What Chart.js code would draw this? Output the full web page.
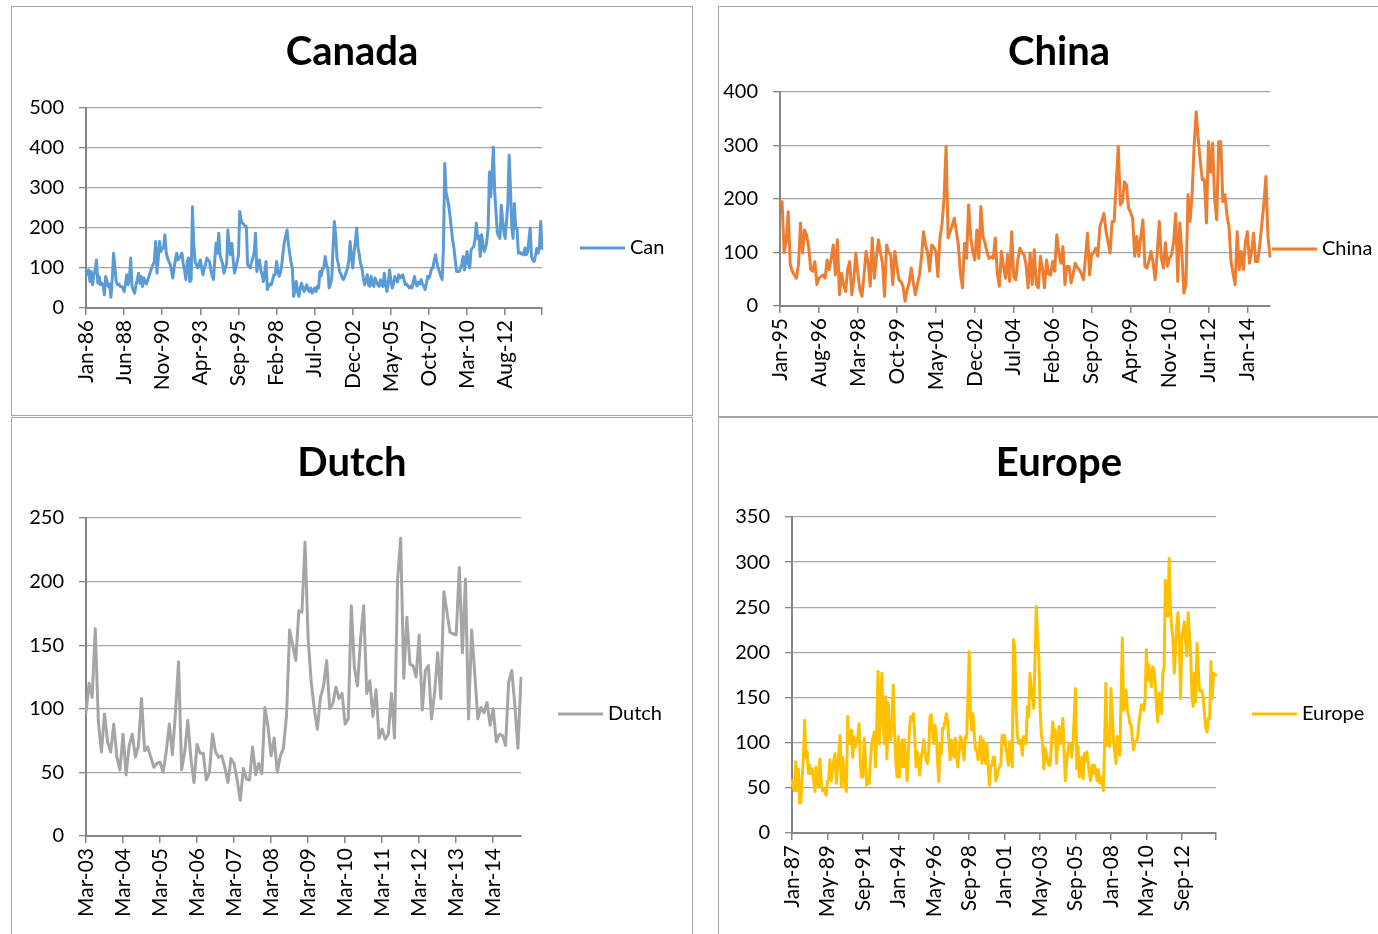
<!DOCTYPE html>
<html>
<head>
<meta charset="utf-8">
<title>Canada, China, Dutch, Europe</title>
<script src="https://cdn.jsdelivr.net/npm/chart.js@4.4.1/dist/chart.umd.min.js"></script>
<style>
html, body { margin: 0; padding: 0; background: #fff; overflow: hidden; width: 1378px; height: 934px; }
.box { position: absolute; border: 1px solid #a6a6a6; background: #fff; }
canvas { display: block; }
</style>
</head>
<body>
<div class="box" style="left:11px;top:6px;width:680px;height:408px"><canvas id="canadaChart" width="680" height="408"></canvas></div>
<div class="box" style="left:718px;top:6px;width:680px;height:409px"><canvas id="chinaChart" width="680" height="409"></canvas></div>
<div class="box" style="left:11px;top:417px;width:680px;height:520px"><canvas id="dutchChart" width="680" height="520"></canvas></div>
<div class="box" style="left:718px;top:417px;width:680px;height:520px"><canvas id="europeChart" width="680" height="520"></canvas></div>
<script>
// monthly values (one row per year)
var canada = [
  93, 83, 95, 66, 91, 58, 83, 95, 120, 62, 79, 58,
  62, 58, 33, 79, 66, 54, 60, 27, 75, 137, 100, 66,
  58, 60, 54, 54, 50, 41, 60, 83, 58, 70, 125, 54,
  45, 37, 58, 70, 87, 62, 79, 54, 75, 66, 60, 70,
  80, 91, 100, 108, 116, 166, 87, 125, 166, 141, 150, 150,
  183, 140, 125, 116, 110, 95, 75, 100, 120, 137, 120, 125,
  130, 137, 110, 95, 71, 115, 125, 66, 70, 253, 160, 116,
  108, 100, 110, 120, 100, 83, 100, 110, 125, 120, 116, 95,
  80, 71, 120, 162, 137, 187, 133, 120, 110, 87, 100, 110,
  195, 150, 133, 162, 120, 87, 100, 116, 130, 241, 220, 212,
  210, 205, 203, 108, 104, 100, 115, 125, 140, 187, 91, 110,
  120, 95, 83, 66, 90, 116, 46, 55, 60, 58, 70, 83,
  83, 116, 95, 79, 90, 108, 140, 166, 180, 195, 160, 137,
  115, 100, 29, 45, 66, 40, 29, 50, 62, 50, 41, 50,
  58, 45, 41, 50, 37, 45, 50, 41, 54, 50, 91, 80,
  100, 100, 129, 108, 100, 50, 60, 75, 150, 216, 183, 125,
  110, 91, 85, 75, 71, 80, 90, 100, 120, 166, 125, 100,
  140, 166, 200, 150, 133, 110, 100, 75, 58, 70, 83, 58,
  54, 79, 60, 54, 75, 66, 58, 54, 70, 60, 54, 87,
  60, 41, 60, 95, 70, 50, 60, 79, 70, 65, 83, 75,
  80, 83, 70, 58, 60, 55, 50, 55, 50, 65, 79, 60,
  55, 65, 60, 71, 60, 55, 46, 60, 79, 75, 85, 100,
  100, 120, 133, 115, 100, 90, 80, 71, 150, 361, 290, 274,
  257, 230, 200, 170, 149, 120, 91, 91, 91, 100, 110, 129,
  95, 120, 141, 110, 100, 145, 150, 153, 170, 212, 174, 180,
  129, 183, 160, 141, 150, 166, 200, 340, 278, 332, 402, 291,
  240, 187, 180, 174, 257, 220, 190, 174, 216, 260, 382, 300,
  200, 174, 261, 200, 200, 137, 140, 135, 137, 133, 150, 133,
  140, 170, 200, 129, 120, 116, 130, 149, 137, 150, 216, 149
];

var china = [
  195, 195, 100, 120, 176, 77, 65, 58, 52, 77, 155, 99,
  142, 132, 110, 68, 65, 83, 40, 52, 55, 58, 52, 86,
  68, 89, 114, 58, 124, 21, 61, 40, 27, 68, 83, 21,
  50, 99, 60, 30, 18, 58, 102, 80, 37, 127, 52, 90,
  124, 100, 80, 18, 114, 100, 96, 40, 102, 75, 49, 45,
  37, 9, 30, 43, 71, 45, 21, 40, 58, 90, 139, 114,
  100, 65, 114, 110, 102, 55, 127, 152, 200, 298, 127, 139,
  150, 164, 140, 114, 60, 34, 117, 89, 189, 130, 102, 86,
  142, 89, 186, 130, 118, 100, 89, 92, 89, 127, 60, 37,
  102, 75, 52, 96, 46, 139, 55, 49, 86, 108, 100, 96,
  77, 34, 99, 40, 105, 40, 34, 93, 70, 34, 86, 60,
  58, 83, 65, 133, 100, 80, 111, 40, 74, 74, 43, 60,
  80, 72, 68, 60, 49, 90, 136, 58, 96, 100, 108, 93,
  148, 160, 173, 140, 120, 99, 158, 158, 230, 298, 189, 195,
  232, 226, 183, 175, 164, 93, 130, 93, 130, 161, 74, 71,
  85, 102, 80, 49, 100, 158, 90, 71, 118, 74, 90, 96,
  120, 173, 46, 155, 100, 24, 40, 208, 158, 208, 300, 363,
  313, 270, 236, 236, 155, 307, 250, 304, 200, 161, 307, 307,
  195, 208, 170, 148, 83, 60, 40, 139, 68, 102, 68, 120,
  139, 80, 102, 136, 83, 83, 114, 152, 190, 242, 130, 93
];

var dutch = [
  97, 120, 109, 163, 90, 66, 96, 74, 66, 88,
  62, 52, 80, 48, 71, 80, 62, 71, 108, 67, 70, 62,
  54, 57, 58, 50, 66, 88, 64, 97, 137, 52, 66, 91,
  61, 42, 72, 65, 65, 44, 50, 80, 66, 62, 63, 54,
  42, 61, 57, 44, 28, 53, 45, 44, 70, 48, 57, 49,
  101, 86, 63, 77, 50, 63, 69, 95, 162, 150, 138, 177,
  176, 231, 155, 121, 100, 84, 109, 118, 138, 100, 104, 117,
  108, 112, 88, 92, 181, 132, 118, 155, 181, 112, 122, 94,
  115, 77, 84, 76, 80, 112, 77, 202, 234, 124, 172, 135,
  134, 125, 158, 99, 130, 134, 92, 113, 144, 108, 192, 176,
  160, 159, 158, 211, 144, 202, 92, 162, 128, 92, 101, 97,
  105, 87, 100, 74, 80, 79, 71, 121, 130, 103, 69, 124
];

var europe = [
  58, 50, 47, 79, 47, 71, 33, 34, 60, 84, 125, 84,
  90, 66, 75, 66, 71, 60, 46, 73, 60, 51, 82, 60,
  47, 49, 45, 42, 57, 60, 81, 58, 71, 80, 88, 55,
  70, 88, 108, 51, 84, 70, 51, 46, 129, 99, 99, 114,
  84, 107, 95, 100, 105, 121, 77, 62, 62, 105, 84, 53,
  55, 55, 81, 99, 105, 112, 73, 120, 179, 99, 142, 177,
  120, 99, 151, 82, 144, 110, 103, 125, 164, 112, 80, 62,
  107, 62, 90, 103, 73, 103, 80, 58, 92, 119, 129, 125,
  132, 107, 73, 90, 82, 64, 84, 90, 103, 92, 81, 77,
  90, 129, 131, 115, 99, 119, 108, 80, 57, 99, 88, 116,
  116, 125, 132, 123, 100, 81, 103, 90, 84, 105, 84, 73,
  90, 107, 103, 90, 81, 107, 105, 150, 201, 132, 114, 132,
  110, 92, 92, 81, 95, 107, 77, 103, 90, 77, 99, 75,
  53, 75, 75, 84, 84, 58, 62, 70, 73, 77, 108, 99,
  108, 95, 86, 75, 101, 90, 73, 214, 205, 140, 110, 99,
  100, 103, 86, 107, 105, 99, 140, 129, 177, 162, 150, 138,
  192, 251, 220, 195, 136, 110, 99, 71, 94, 88, 80, 75,
  75, 100, 123, 107, 114, 77, 100, 118, 99, 110, 127, 88,
  58, 79, 90, 99, 99, 84, 99, 130, 160, 71, 96, 62,
  75, 84, 60, 88, 80, 90, 77, 65, 58, 75, 66, 75,
  70, 58, 70, 55, 62, 58, 47, 99, 166, 97, 97, 96,
  160, 136, 103, 90, 77, 107, 90, 86, 151, 216, 136, 150,
  158, 136, 130, 121, 120, 103, 92, 101, 101, 105, 120, 132,
  142, 140, 136, 150, 203, 169, 186, 170, 162, 184, 181, 165,
  140, 123, 155, 140, 132, 177, 184, 280, 250, 240, 304, 250,
  227, 216, 177, 203, 230, 244, 214, 149, 216, 225, 234, 212,
  196, 244, 220, 196, 150, 140, 177, 145, 210, 180, 158, 157,
  157, 149, 130, 116, 112, 127, 127, 190, 149, 177, 175, 175
];

// first month of each series: [year, month index]
var canadaStart = [1986, 0];
var chinaStart = [1995, 0];
var dutchStart = [2003, 2];
var europeStart = [1987, 0];

// months between labelled ticks
var canadaTickStep = 29;
var chinaTickStep = 19;
var dutchTickStep = 12;
var europeTickStep = 28;

var monthNames = ['Jan', 'Feb', 'Mar', 'Apr', 'May', 'Jun', 'Jul', 'Aug', 'Sep', 'Oct', 'Nov', 'Dec'];

function monthLabels(start, count) {
  var out = [];
  var y = start[0], m = start[1];
  for (var i = 0; i < count; i++) {
    out.push(monthNames[m] + '-' + String(y % 100).padStart(2, '0'));
    m++;
    if (m > 11) { m = 0; y++; }
  }
  return out;
}

Chart.defaults.font.family = 'Lato';
Chart.defaults.color = '#000';

// legend drawn to the right of the plot, like the Excel one
var sideLegend = {
  id: 'sideLegend',
  afterDraw: function(chart, args, opts) {
    var ds = chart.data.datasets[0];
    var ctx = chart.ctx;
    var x = chart.chartArea.right + opts.dx;
    ctx.save();
    ctx.strokeStyle = ds.borderColor;
    ctx.lineWidth = 3;
    ctx.beginPath();
    ctx.moveTo(x, opts.y);
    ctx.lineTo(x + 45, opts.y);
    ctx.stroke();
    ctx.fillStyle = '#000';
    ctx.font = '20px Lato';
    ctx.textBaseline = 'middle';
    ctx.fillText(ds.label, x + 50, opts.y);
    ctx.restore();
  }
};

function makeChart(id, title, name, color, values, start, tickStep, yMax, yStep, lay) {
  var labels = monthLabels(start, values.length);
  return new Chart(document.getElementById(id), {
    type: 'line',
    data: {
      labels: labels,
      datasets: [{
        label: name,
        data: values,
        borderColor: color,
        backgroundColor: color,
        borderWidth: 3,
        pointRadius: 0,
        tension: 0,
        borderJoinStyle: 'round',
        borderCapStyle: 'round'
      }]
    },
    options: {
      responsive: false,
      animation: false,
      events: [],
      devicePixelRatio: 1,
      layout: { padding: 0 },
      plugins: {
        legend: { display: false },
        tooltip: { enabled: false },
        title: {
          display: true,
          text: title,
          color: '#000',
          font: { size: 40, weight: 'bold', family: 'Lato' },
          padding: { top: 21, bottom: lay.plotTop - 21 - 40 * 1.2 }
        },
        sideLegend: { dx: lay.legendDx, y: lay.legendY }
      },
      scales: {
        x: {
          type: 'category',
          offset: false,
          afterFit: function(scale) { scale.height = lay.xHeight; },
          grid: { drawOnChartArea: false, drawTicks: true, tickLength: 7, color: '#868686', lineWidth: 1.5 },
          border: { color: '#868686', width: 2 },
          ticks: {
            autoSkip: false,
            maxRotation: 90,
            minRotation: 90,
            padding: 5,
            font: { size: 21 },
            callback: function(value, index) {
              if (index % tickStep === 0) return this.getLabelForValue(value);
              if (lay.endTick && index === values.length - 1) return '';
              return null;
            }
          }
        },
        y: {
          min: 0,
          max: yMax,
          afterFit: function(scale) { scale.width = lay.yWidth; },
          grid: { color: '#a6a6a6', lineWidth: 1.3, tickLength: 7, tickColor: '#868686' },
          border: { color: '#868686', width: 2 },
          ticks: { stepSize: yStep, padding: 15, font: { size: 20 } }
        },
        // empty strip on the right that holds the legend
        legendSpace: {
          type: 'linear',
          position: 'right',
          grid: { display: false, drawTicks: false },
          border: { display: false },
          ticks: { display: false },
          afterFit: function(scale) { scale.width = lay.padRight; }
        }
      }
    },
    plugins: [sideLegend]
  });
}

makeChart('canadaChart', 'Canada', 'Can', '#5b9bd5', canada, canadaStart, canadaTickStep, 500, 100,
  { yWidth: 74, xHeight: 107, padRight: 150, plotTop: 101, legendDx: 38, legendY: 241, endTick: true });
makeChart('chinaChart', 'China', 'China', '#ed7d31', china, chinaStart, chinaTickStep, 400, 100,
  { yWidth: 61, xHeight: 110, padRight: 129, plotTop: 85, legendDx: 2, legendY: 242, endTick: false });
makeChart('dutchChart', 'Dutch', 'Dutch', '#a5a5a5', dutch, dutchStart, dutchTickStep, 250, 50,
  { yWidth: 74, xHeight: 102, padRight: 171, plotTop: 100, legendDx: 37, legendY: 296, endTick: false });
makeChart('europeChart', 'Europe', 'Europe', '#ffc000', europe, europeStart, europeTickStep, 350, 50,
  { yWidth: 73, xHeight: 105, padRight: 183, plotTop: 99, legendDx: 36, legendY: 296, endTick: true });
</script>
</body>
</html>
